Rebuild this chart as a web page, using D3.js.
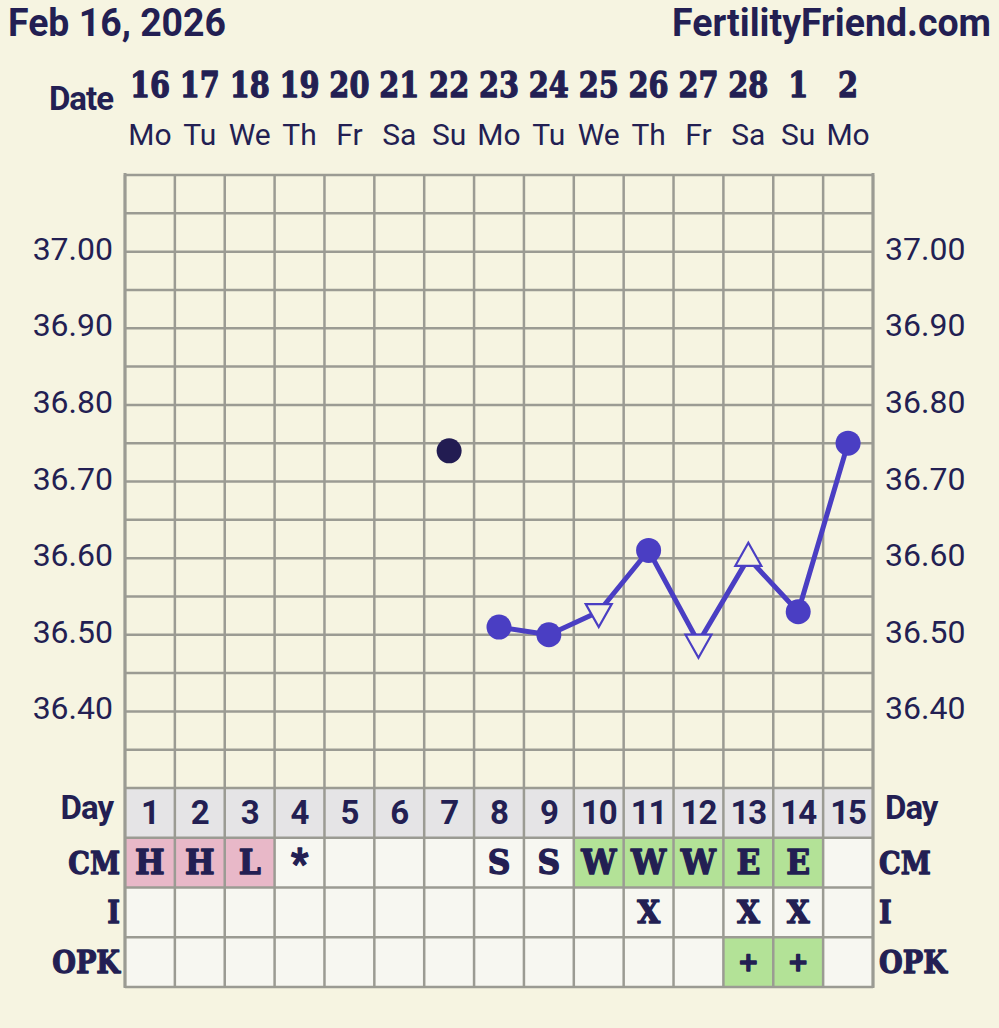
<!DOCTYPE html>
<html><head><meta charset="utf-8">
<script src="https://cdn.jsdelivr.net/npm/d3@7"></script>
<style>
html,body{margin:0;padding:0;background:#f6f4e1;}
svg{display:block;}
</style></head>
<body>
<script>
// ---- data ----
const headerDate = "Feb 16, 2026";
const brand = "FertilityFriend.com";
const dates = ["16","17","18","19","20","21","22","23","24","25","26","27","28","1","2"];
const weekdays = ["Mo","Tu","We","Th","Fr","Sa","Su","Mo","Tu","We","Th","Fr","Sa","Su","Mo"];
const cycleDays = [1,2,3,4,5,6,7,8,9,10,11,12,13,14,15];
const temps = [null,null,null,null,null,null,36.74,36.51,36.50,36.53,36.61,36.49,36.60,36.53,36.75];
const markers = ["","","","","","","discard","circle","circle","down","circle","down","up","circle","circle"];
const connected = [false,false,false,false,false,false,false,true,true,true,true,true,true,true,true];
const tempTicks = [36.40,36.50,36.60,36.70,36.80,36.90,37.00];
const cm = ["H","H","L","*","","","","S","S","W","W","W","E","E",""];
const cmType = ["pink","pink","pink","","","","","","","green","green","green","green","green",""];
const intercourse = ["","","","","","","","","","","X","","X","X",""];
const opk = ["","","","","","","","","","","","","+","+",""];
const rowLabels = ["Day","CM","I","OPK"];

// ---- style ----
const W = 999, H = 1028;
const C = {bg:"#f6f4e1", text:"#231f53", grid:"#9b9b93", line:"#4a3ec3", dark:"#221c52",
  dayRow:"#e5e4e6", cell:"#f7f7f1", pink:"#e8b8c8", green:"#b3e297"};
const sans = "Roboto, 'Noto Sans', sans-serif";
const slab = "'DejaVu Serif', serif";

const svg = d3.select("body").append("svg").attr("width",W).attr("height",H);
svg.append("rect").attr("width",W).attr("height",H).attr("fill",C.bg);

const x = d3.scaleBand().domain(cycleDays).range([125,873]).padding(0);
const y = d3.scaleLinear().domain([36.30,37.10]).range([788,175]);
const rowH = (987-788)/4;
const rowY = i => 788 + i*rowH;
const cx = d => x(d) + x.bandwidth()/2;

function heavy(sel, w){ return sel.attr("stroke",C.text).attr("stroke-width",w).attr("stroke-linejoin","round"); }

// header
svg.append("text").attr("x",8).attr("y",36).text(headerDate)
  .attr("font-family",sans).attr("font-weight",700).attr("font-size",38)
  .attr("textLength",218).attr("lengthAdjust","spacingAndGlyphs").attr("fill",C.text);
svg.append("text").attr("x",991).attr("y",36).attr("text-anchor","end").text(brand)
  .attr("font-family",sans).attr("font-weight",700).attr("font-size",38)
  .attr("textLength",319).attr("lengthAdjust","spacingAndGlyphs").attr("fill",C.text);

// Date row
svg.append("text").attr("x",113).attr("y",110).attr("text-anchor","end").text("Date")
  .attr("font-family",sans).attr("font-weight",700).attr("font-size",33)
  .attr("letter-spacing",-1).attr("fill",C.text);
heavy(svg.append("g").selectAll("text").data(cycleDays).join("text")
  .attr("transform",d=>`translate(${cx(d)},97) scale(0.8,1)`)
  .attr("text-anchor","middle").text((d,i)=>dates[i])
  .attr("font-family",slab).attr("font-weight",700).attr("font-size",36).attr("fill",C.text), 1.3);
svg.append("g").selectAll("text").data(cycleDays).join("text")
  .attr("x",d=>cx(d)).attr("y",145).attr("text-anchor","middle").text((d,i)=>weekdays[i])
  .attr("font-family",sans).attr("font-size",30).attr("fill",C.text);

// table cells
const rows = [
  {vals: cycleDays.map(String), fill: ()=>C.dayRow, font: sans, size: 33, sw: 0},
  {vals: cm, fill: (i)=>cmType[i]==="pink"?C.pink:cmType[i]==="green"?C.green:C.cell, font: slab, size: 33, sw: 1.4},
  {vals: intercourse, fill: ()=>C.cell, font: slab, size: 31, sw: 1.4},
  {vals: opk, fill: (i)=>opk[i]==="+"?C.green:C.cell, font: slab, size: 26, sw: 1.6}
];
rows.forEach((r,ri)=>{
  const g = svg.append("g");
  g.selectAll("rect").data(cycleDays).join("rect")
    .attr("x",d=>x(d)).attr("y",rowY(ri)).attr("width",x.bandwidth()).attr("height",rowH)
    .attr("fill",(d,i)=>r.fill(i));
  const t = g.selectAll("text").data(cycleDays).join("text")
    .attr("transform",(d,i)=>{
      const v = r.vals[i];
      const yy = rowY(ri) + rowH/2 + (v==="*" ? 14 : (ri===3 ? 9 : 11));
      return ri===0 ? `translate(${cx(d)},${yy})` : `translate(${cx(d)},${yy}) scale(0.95,1)`;
    })
    .attr("text-anchor","middle").text((d,i)=>r.vals[i])
    .attr("font-family",(d,i)=>r.vals[i]==="*"?sans:r.font).attr("font-weight",700)
    .attr("font-size",(d,i)=>r.vals[i]==="*"?40:r.size)
    .attr("letter-spacing",ri===0?-1:0)
    .attr("fill",C.text);
  if (r.sw) heavy(t, r.sw);
});

// row labels
rowLabels.forEach((lab,i)=>{
  const isDay = i===0;
  const yy = rowY(i) + rowH/2 + 11;
  [{x:isDay?113:120, a:"end"},{x:isDay?885:879, a:"start"}].forEach(p=>{
    const t = svg.append("text").attr("transform",`translate(${p.x},${yy - (isDay?5:0)}) scale(${isDay?1:0.85},1)`)
      .attr("text-anchor",p.a).text(lab)
      .attr("font-family",isDay?sans:slab).attr("font-weight",700)
      .attr("font-size",isDay?33:32).attr("letter-spacing",isDay?-1:0).attr("fill",C.text);
    if (!isDay) heavy(t, 1.3);
  });
});

// grid
const grid = svg.append("g").attr("stroke",C.grid).attr("stroke-width",2.5).attr("fill","none");
const hLines = d3.range(0,17).map(i=>36.30 + i*0.05);
grid.selectAll("line.h").data(hLines).join("line").attr("class","h")
  .attr("x1",125).attr("x2",873).attr("y1",d=>y(d)).attr("y2",d=>y(d));
grid.selectAll("line.r").data([1,2,3,4]).join("line").attr("class","r")
  .attr("x1",125).attr("x2",873).attr("y1",d=>rowY(d)).attr("y2",d=>rowY(d));
const vEdges = cycleDays.map(d=>x(d)).concat([x(15)+x.bandwidth()]);
grid.selectAll("line.v").data(vEdges).join("line").attr("class","v")
  .attr("x1",d=>d).attr("x2",d=>d).attr("y1",y(37.10)).attr("y2",rowY(4));
grid.selectAll("line.b").data([125,873]).join("line").attr("class","b")
  .attr("stroke-width",3)
  .attr("x1",d=>d).attr("x2",d=>d).attr("y1",y(37.10)-2).attr("y2",rowY(4)+1);

// y labels
const yl = svg.append("g").attr("font-family",sans).attr("font-size",32).attr("fill",C.text);
yl.selectAll("text.l").data(tempTicks).join("text").attr("class","l")
  .attr("x",113).attr("y",d=>y(d)+8).attr("text-anchor","end").text(d=>d.toFixed(2));
yl.selectAll("text.r").data(tempTicks).join("text").attr("class","r")
  .attr("x",885).attr("y",d=>y(d)+8).attr("text-anchor","start").text(d=>d.toFixed(2));

// temperature line
const pts = cycleDays.map((d,i)=>({d, t:temps[i], m:markers[i], c:connected[i]}));
const linePts = pts.filter(p=>p.c && p.t!=null);
svg.append("path").datum(linePts)
  .attr("d",d3.line().x(p=>cx(p.d)).y(p=>y(p.t)))
  .attr("fill","none").attr("stroke",C.line).attr("stroke-width",5).attr("stroke-linejoin","round");

// markers
const mk = svg.append("g");
mk.selectAll("circle").data(pts.filter(p=>p.m==="circle"||p.m==="discard")).join("circle")
  .attr("cx",p=>cx(p.d)).attr("cy",p=>y(p.t)).attr("r",12.5)
  .attr("fill",p=>p.m==="discard"?C.dark:C.line);
mk.selectAll("path").data(pts.filter(p=>p.m==="down"||p.m==="up")).join("path")
  .attr("d",p=>{
    const X = cx(p.d), Y = y(p.t), hw = 13;
    return p.m==="down"
      ? `M${X-hw},${Y-7.7}L${X+hw},${Y-7.7}L${X},${Y+15.3}Z`
      : `M${X-hw},${Y+7.7}L${X+hw},${Y+7.7}L${X},${Y-15.3}Z`;
  })
  .attr("fill",C.bg).attr("stroke",C.line).attr("stroke-width",2.2);
</script>
</body></html>
